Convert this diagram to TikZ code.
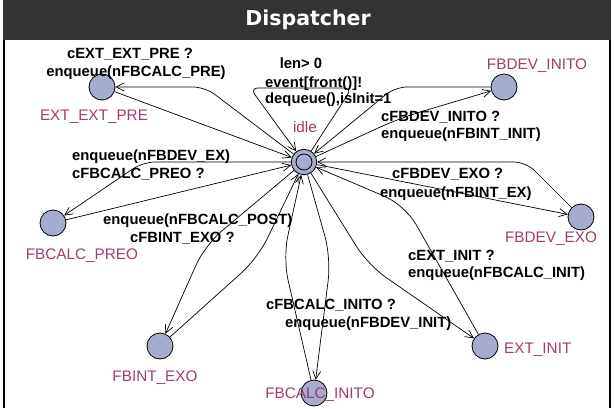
\documentclass[tikz,border=0pt]{standalone}
\usepackage{fontspec}
\setmainfont{Liberation Sans}
\newfontfamily\titlefont{DejaVu Sans}
\usetikzlibrary{arrows.meta}
\definecolor{titlebg}{RGB}{51,51,51}
\definecolor{statefill}{RGB}{165,172,205}
\definecolor{loccol}{RGB}{160,60,110}
\begin{document}
\begin{tikzpicture}[x=1pt,y=-1pt,
  state/.style={circle,draw,line width=0.8pt,fill=statefill,minimum size=26pt,inner sep=0pt},
  edge/.style={draw,line width=0.7pt,-{Straight Barb[length=8pt,width=8pt]},rounded corners=12pt},
  bigbend/.style={rounded corners=22pt},
  elabel/.style={inner sep=0pt,font=\fontsize{14.8}{17}\selectfont\bfseries},
  slabel/.style={inner sep=0pt,text=loccol,font=\fontsize{15.3}{18}\selectfont}]
\useasboundingbox (0,0) rectangle (614,408);
% frame
\fill[titlebg] (3,0) rectangle (611,40);
\draw[line width=2pt] (4,40) -- (4,408);
\draw[line width=2pt] (610,40) -- (610,408);
\node[font=\titlefont\bfseries\fontsize{20.5}{24}\selectfont,text=white,anchor=base,inner sep=0pt] (title) at (308,25) {Dispatcher};
% states
\node[state,minimum size=25.5pt] (idle) at (304,162) {};
\draw[line width=0.8pt] (idle.center) circle[radius=8pt];
\node[state] (eep) at (102,87) {};
\node[state] (fdi) at (504,87) {};
\node[state] (fcp) at (53,223) {};
\node[state] (fde) at (581,217) {};
\node[state] (fie) at (160,346) {};
\node[state] (fci) at (314,393) {};
\node[state] (ei) at (485,346) {};
% nails
\coordinate (nEEP) at (205,87);
\coordinate (nFDI) at (395,87);
\coordinate (nFDI2) at (400,118);
\coordinate (nFCP) at (143,162);
\coordinate (nFDE) at (526,162);
\coordinate (nFIE1) at (205,245);
\coordinate (nFIE2) at (258,258);
\coordinate (nFCI1) at (283,258);
\coordinate (nFCI2) at (331,258);
\coordinate (nEI1) at (368,265);
\coordinate (nEI2) at (405,205);
\coordinate (nL1) at (250,88);
\coordinate (nL2) at (352,88);
% edges
\draw[edge] (idle) -- (nEEP) -- (eep);
\draw[edge] (eep) -- (idle);
\draw[edge] (fdi) -- (nFDI) -- (idle);
\draw[edge,bigbend] (idle) -- (nFDI2) -- (fdi);
\draw[edge] (idle) -- (nFCP) -- (fcp);
\draw[edge] (fcp) -- (idle);
\draw[edge] (fde) -- (nFDE) -- (idle);
\draw[edge] (idle) -- (fde);
\draw[edge,bigbend] (idle) -- (nFIE1) -- (fie);
\draw[edge,bigbend] (fie) -- (nFIE2) -- (idle);
\draw[edge,bigbend] (fci) -- (nFCI1) -- (idle);
\draw[edge,bigbend] (idle) -- (nFCI2) -- (fci);
\draw[edge,bigbend] (idle) -- (nEI1) -- (ei);
\draw[edge,bigbend] (ei) -- (nEI2) -- (idle);
\draw[edge,rounded corners=8pt] (idle) -- (nL2) -- (nL1) -- (idle);
% edge labels
\node[elabel,anchor=base] (l1) at (130,58) {cEXT\_EXT\_PRE ?};
\node[elabel,anchor=base] (l2) at (136,76) {enqueue(nFBCALC\_PRE)};
\node[elabel,anchor=base] (l3) at (301,68) {len> 0};
\node[elabel,anchor=base west] (l4) at (265,87) {event[front()]!};
\node[elabel,anchor=base west] (l5) at (265,103) {dequeue(),isInit=1};
\node[elabel,anchor=base west] (l6) at (381,121) {cFBDEV\_INITO ?};
\node[elabel,anchor=base west] (l7) at (381,138) {enqueue(nFBINT\_INIT)};
\node[elabel,anchor=base west] (l8) at (72,160) {enqueue(nFBDEV\_EX)};
\node[elabel,anchor=base west] (l9) at (72,178) {cFBCALC\_PREO ?};
\node[elabel,anchor=base west] (l10) at (103,224) {enqueue(nFBCALC\_POST)};
\node[elabel,anchor=base west] (l11) at (130,242) {cFBINT\_EXO ?};
\node[elabel,anchor=base west] (l12) at (392,178) {cFBDEV\_EXO ?};
\node[elabel,anchor=base west] (l13) at (380,197) {enqueue(nFBINT\_EX)};
\node[elabel,anchor=base west] (l14) at (408,260) {cEXT\_INIT ?};
\node[elabel,anchor=base west] (l15) at (408,277) {enqueue(nFBCALC\_INIT)};
\node[elabel,anchor=base west] (l16) at (266,309) {cFBCALC\_INITO ?};
\node[elabel,anchor=base west] (l17) at (285,327) {enqueue(nFBDEV\_INIT)};
% state labels
\node[slabel,anchor=base] (s1) at (94,120.5) {EXT\_EXT\_PRE};
\node[slabel,anchor=base] (s2) at (537,69.5) {FBDEV\_INITO};
\node[slabel,anchor=base] (s3) at (305,132.5) {idle};
\node[slabel,anchor=base] (s4) at (82,259.5) {FBCALC\_PREO};
\node[slabel,anchor=base] (s5) at (551,242.5) {FBDEV\_EXO};
\node[slabel,anchor=base] (s6) at (155,381.5) {FBINT\_EXO};
\node[slabel,anchor=base] (s7) at (320,398.5) {FBCALC\_INITO};
\node[slabel,anchor=base west] (s8) at (504,353.5) {EXT\_INIT};
\end{tikzpicture}
\end{document}
